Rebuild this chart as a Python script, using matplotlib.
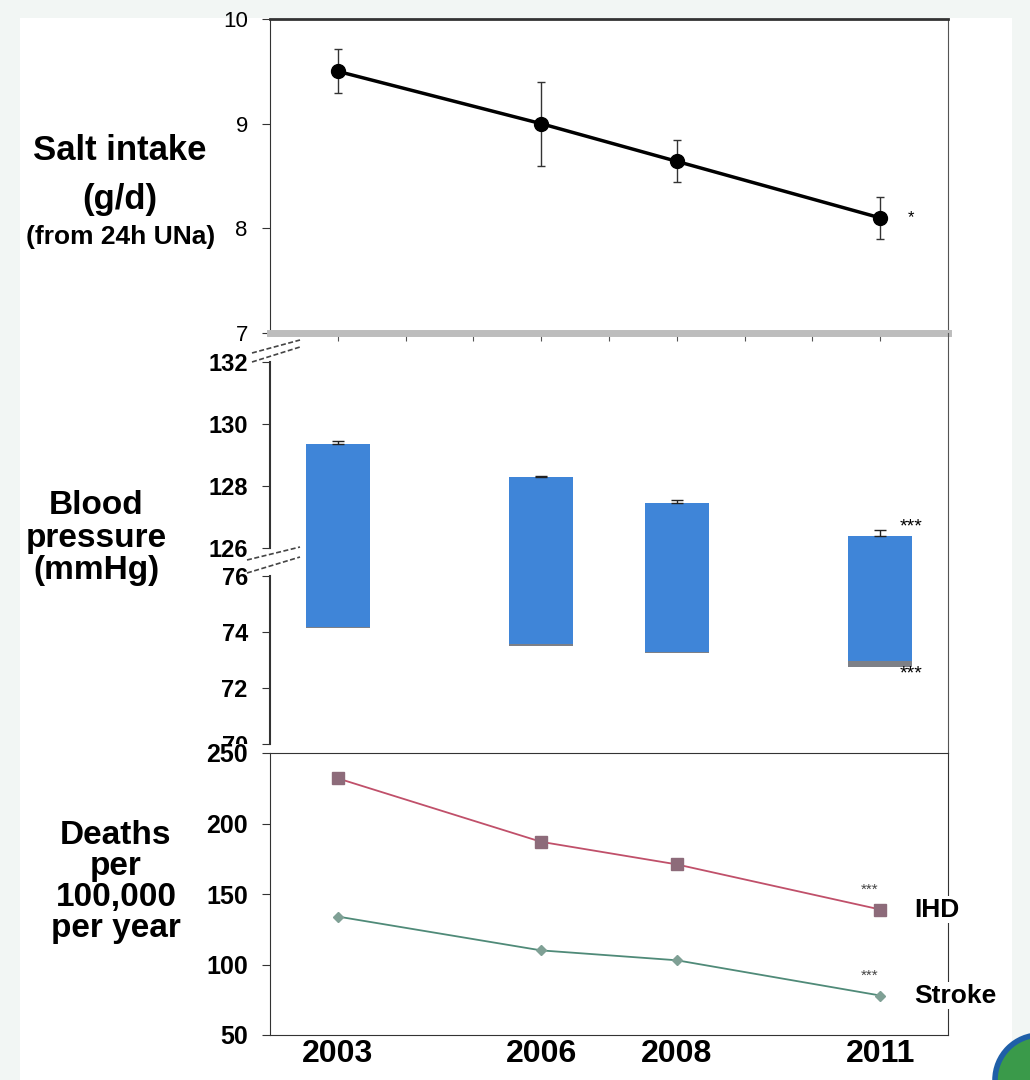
import numpy as np
import matplotlib.pyplot as plt
from matplotlib.lines import Line2D
from matplotlib.patches import Rectangle, Ellipse

plt.rcParams['font.family'] = ['Liberation Sans', 'DejaVu Sans']

# Data
years = [2003, 2006, 2008, 2011]
year_labels = ['2003', '2006', '2008', '2011']

salt = [9.50, 9.00, 8.64, 8.10]          # g/d
salt_err = [0.21, 0.40, 0.20, 0.20]

sbp = [129.35, 128.30, 127.44, 126.38]   # systolic, mmHg
sbp_err = [0.10, 0.03, 0.11, 0.20]
dbp = [74.13, 73.51, 73.24, 72.74]       # diastolic, mmHg
dbp_err = [0.05, 0.05, 0.05, 0.22]

ihd = [232, 187, 171, 139]               # deaths per 100,000 per year
stroke = [134, 110, 103, 78]

W, H = 1030, 1080
L, R = 270, 948


def frac(x, y):
    # pixel position (from top-left) -> figure fraction
    return x / W, 1 - y / H


def box(top, bottom):
    return [L / W, 1 - bottom / H, (R - L) / W, (bottom - top) / H]


# broken blood pressure axis: 70-76 and 126-132 stacked
def bp_fwd(v):
    v = np.asarray(v, dtype=float)
    low = (v - 70) * 28
    gap = 168 + (v - 76) * 28 / 50
    high = 196 + (v - 126) * 31
    return np.where(v <= 76, low, np.where(v >= 126, high, gap))


def bp_inv(f):
    f = np.asarray(f, dtype=float)
    low = 70 + f / 28
    gap = 76 + (f - 168) * 50 / 28
    high = 126 + (f - 196) / 31
    return np.where(f <= 168, low, np.where(f >= 196, high, gap))


fig = plt.figure(figsize=(W / 100, H / 100), dpi=100, facecolor='#f2f6f4')
fig.add_artist(Rectangle(frac(20, H), (1012 - 20) / W, (H - 18) / H,
                         transform=fig.transFigure, facecolor='white',
                         edgecolor='none', zorder=-10))

# ---------------- top: salt intake ----------------
ax1 = fig.add_axes(box(19, 333))
ax1.errorbar(years, salt, yerr=salt_err, fmt='o-', color='black', ms=10,
             lw=2.5, elinewidth=1, ecolor='#333333', capsize=3)
ax1.text(2011.45, salt[-1], '*', fontsize=12, ha='center', va='center')
ax1.set_xlim(2002, 2012)
ax1.set_ylim(7, 10)
ax1.set_yticks([7, 8, 9, 10])
ax1.set_xticks(range(2003, 2012))
ax1.set_xticklabels([])
ax1.tick_params(axis='y', labelsize=16, length=6, pad=10, color='#333333')
ax1.tick_params(axis='x', direction='out', length=6, color='#555555')
ax1.spines['bottom'].set_color('#bdbdbd')
ax1.spines['bottom'].set_linewidth(5)
ax1.spines['top'].set_linewidth(2)
ax1.spines['top'].set_color('#333333')
ax1.spines['left'].set_color('#333333')
ax1.spines['right'].set_color('#555555')

# ---------------- middle: blood pressure ----------------
ax2 = fig.add_axes(box(333, 753), facecolor='none')
ax2.set_yscale('function', functions=(bp_fwd, bp_inv))
ax2.bar(years, np.subtract(sbp, dbp), bottom=dbp, width=0.95,
        color='#3f85d8', edgecolor='none')
ax2.bar(years, dbp_err, bottom=dbp, width=0.95, color='#7d8087',
        edgecolor='none')
ax2.errorbar(years, sbp, yerr=[np.zeros(len(sbp)), sbp_err], fmt='none',
             ecolor='#222222', elinewidth=1, capsize=4)
ax2.text(2011.46, 126.68, '***', fontsize=14, ha='center', va='center')
ax2.text(2011.46, 72.50, '***', fontsize=14, ha='center', va='center')
ax2.set_xlim(2002, 2012)
ax2.set_ylim(69.68, 132.94)
ax2.set_yticks([70, 72, 74, 76, 126, 128, 130, 132])
ax2.set_xticks([])
ax2.tick_params(axis='y', labelsize=17, length=6, pad=10, color='#333333')
for t in ax2.get_yticklabels():
    t.set_fontweight('bold')
for side in ['top', 'bottom', 'left']:
    ax2.spines[side].set_visible(False)
ax2.spines['right'].set_color('#555555')
# left axis in two pieces
ax2.plot([2002, 2002], [126, 132], color='#333333', lw=1.5, clip_on=False)
ax2.plot([2002, 2002], [70, 76], color='#333333', lw=1.5, clip_on=False)

# break marks
for (x0, y0, x1, y1) in [(252, 353, 300, 340), (252, 362, 300, 347),
                         (247, 560, 300, 547), (247, 573, 300, 557)]:
    fig.add_artist(Line2D([x0 / W, x1 / W], [1 - y0 / H, 1 - y1 / H],
                          transform=fig.transFigure, color='#444444',
                          lw=1.2, ls=(0, (3, 1.5))))

# ---------------- bottom: deaths ----------------
ax3 = fig.add_axes(box(753, 1035))
ax3.set_zorder(3)
ax3.plot(years, ihd, '-', color='#c0506a', lw=1.3)
ax3.plot(years, ihd, 's', color='#8d6b7a', ms=8)
ax3.plot(years, stroke, '-', color='#4f8a78', lw=1.3)
ax3.plot(years, stroke, 'D', color='#7fa095', ms=5.5)
ax3.text(2010.85, ihd[-1] + 14, '***', fontsize=11, ha='center', va='center',
         color='#444444')
ax3.text(2010.85, stroke[-1] + 14, '***', fontsize=11, ha='center',
         va='center', color='#444444')
ax3.text(2011.5, ihd[-1], 'IHD', fontsize=19, fontweight='bold', ha='left',
         va='center', clip_on=False, zorder=5,
         bbox=dict(facecolor='white', edgecolor='none', pad=1))
ax3.text(2011.5, stroke[-1], 'Stroke', fontsize=19, fontweight='bold',
         ha='left', va='center', clip_on=False, zorder=5,
         bbox=dict(facecolor='white', edgecolor='none', pad=1))
ax3.set_xlim(2002, 2012)
ax3.set_ylim(50, 250)
ax3.set_yticks([50, 100, 150, 200, 250])
ax3.set_xticks(years)
ax3.set_xticklabels(year_labels)
ax3.tick_params(axis='y', labelsize=18, length=6, pad=10, color='#333333')
ax3.tick_params(axis='x', labelsize=23, length=0, pad=3)
for t in ax3.get_yticklabels() + ax3.get_xticklabels():
    t.set_fontweight('bold')
for t in ax3.get_yticklabels():
    t.set_bbox(dict(facecolor='white', edgecolor='none', pad=0))
for side in ax3.spines.values():
    side.set_color('#333333')

# row titles
fig.text(*frac(120, 150), 'Salt intake', fontsize=25, fontweight='bold',
         ha='center', va='center')
fig.text(*frac(120, 200), '(g/d)', fontsize=25, fontweight='bold',
         ha='center', va='center')
fig.text(*frac(121, 237), '(from 24h UNa)', fontsize=19, fontweight='bold',
         ha='center', va='center')
fig.text(*frac(96, 538), 'Blood\npressure\n(mmHg)', fontsize=24,
         fontweight='bold', ha='center', va='center', linespacing=1.08)
fig.text(*frac(116, 882), 'Deaths\nper\n100,000\nper year', fontsize=24,
         fontweight='bold', ha='center', va='center', linespacing=1.0)

# corner logo fragment
fig.add_artist(Ellipse(frac(1040, 1080), 90 / W, 90 / H,
                       transform=fig.transFigure, facecolor='#3a9a4a',
                       edgecolor='#1f5fa8', lw=4))

fig.savefig('out.png', dpi=100, facecolor=fig.get_facecolor())
